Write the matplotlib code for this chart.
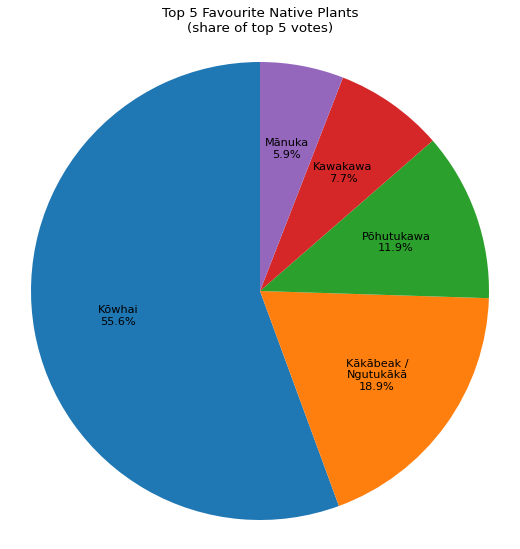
import matplotlib.pyplot as plt
import numpy as np

plants = ['Kōwhai', 'Kākābeak /\nNgutukākā', 'Pōhutukawa', 'Kawakawa', 'Mānuka']
shares = [55.6, 18.9, 11.9, 7.7, 5.9]
colors = ['#1f77b4', '#ff7f0e', '#2ca02c', '#d62728', '#9467bd']

fig = plt.figure(figsize=(5.2, 5.49), dpi=100)
ax = fig.add_axes([31/520, 29/549, 458/520, 458/549])

wedges, _ = ax.pie(shares, colors=colors, startangle=90, counterclock=True)
ax.set_xlim(-1, 1)
ax.set_ylim(-1, 1)
ax.set_aspect('equal')

# labels inside each wedge
for w, name, s in zip(wedges, plants, shares):
    ang = np.deg2rad((w.theta1 + w.theta2) / 2)
    r = 0.63
    ax.text(r * np.cos(ang), r * np.sin(ang), f'{name}\n{s:.1f}%',
            ha='center', va='center', fontsize=8.1)

fig.suptitle('Top 5 Favourite Native Plants\n(share of top 5 votes)',
             fontsize=9.7, y=1 - 7/549, va='top')

fig.savefig('out.png', dpi=100)
